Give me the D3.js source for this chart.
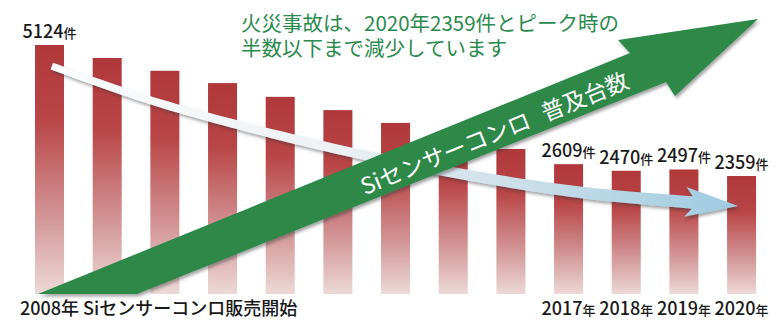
<!DOCTYPE html>
<html>
<head>
<meta charset="utf-8">
<script src="https://cdn.jsdelivr.net/npm/d3@7"></script>
<style>
  body { margin: 0; background: #fff; }
  text { font-family: "Noto Sans CJK JP", "Noto Sans", sans-serif; }
</style>
</head>
<body>
<div id="chart"></div>
<script>
// chart data
var years = [2008, 2009, 2010, 2011, 2012, 2013, 2014, 2015, 2016, 2017, 2018, 2019, 2020];
var fires = [5124, 4850, 4580, 4320, 4030, 3750, 3480, 3200, 2930, 2609, 2470, 2497, 2359];
var labelledYears = [2008, 2017, 2018, 2019, 2020];
var yearTicks = [2017, 2018, 2019, 2020];
var startLabel = ["2008", "年 Siセンサーコンロ販売開始"];
var titleLines = ["火災事故は、2020年2359件とピーク時の", "半数以下まで減少しています"];
var arrowText = ["Siセンサーコンロ", "普及台数"];
// trend arrow path in (year, count) units
var trendPts = [[2008.04, 4680], [2009.74, 3960], [2011.48, 3370], [2013.21, 2865],
                [2014.77, 2485], [2016.38, 2150], [2017.6, 1960], [2019.05, 1810], [2019.94, 1725]];

var svgWidth = 778;
var svgHeight = 322;
var floorY = 294;

var svg = d3.select("#chart")
    .append("svg")
    .attr("width", svgWidth)
    .attr("height", svgHeight);

var defs = svg.append("defs");

var barGrad = defs.append("linearGradient")
    .attr("id", "barGrad")
    .attr("x1", 0).attr("y1", 0).attr("x2", 0).attr("y2", 1);
barGrad.append("stop").attr("offset", "0%").attr("stop-color", "#b0383b");
barGrad.append("stop").attr("offset", "30%").attr("stop-color", "#b94547");
barGrad.append("stop").attr("offset", "70%").attr("stop-color", "#d39797");
barGrad.append("stop").attr("offset", "100%").attr("stop-color", "#ecd9d7");

var trendGrad = defs.append("linearGradient")
    .attr("id", "trendGrad")
    .attr("gradientUnits", "userSpaceOnUse")
    .attr("x1", 50).attr("y1", 0).attr("x2", 740).attr("y2", 0);
trendGrad.append("stop").attr("offset", "0%").attr("stop-color", "#fafbfc");
trendGrad.append("stop").attr("offset", "40%").attr("stop-color", "#eef2f4");
trendGrad.append("stop").attr("offset", "65%").attr("stop-color", "#cfe1ea");
trendGrad.append("stop").attr("offset", "100%").attr("stop-color", "#9dcae0");

var shadow = defs.append("filter").attr("id", "shadow")
    .attr("x", "-10%").attr("y", "-10%").attr("width", "130%").attr("height", "130%");
shadow.append("feDropShadow")
    .attr("dx", 1.5).attr("dy", 2.5).attr("stdDeviation", 1.6)
    .attr("flood-color", "#333").attr("flood-opacity", 0.45);

// scales
var x = d3.scaleBand()
    .domain(years)
    .range([20.6, 770.5])
    .paddingInner(0.497)
    .paddingOuter(0.25);

var y = d3.scaleLinear()
    .domain([0, d3.max(fires)])
    .range([287.8, 45]);

var xc = d3.scaleLinear()
    .domain([years[0], years[years.length - 1]])
    .range([x(years[0]) + x.bandwidth() / 2, x(years[years.length - 1]) + x.bandwidth() / 2]);

var data = years.map(function(yr, i) { return { year: yr, count: fires[i] }; });

// bars
svg.append("g").selectAll("rect")
    .data(data)
    .enter()
    .append("rect")
    .attr("x", d => x(d.year))
    .attr("y", d => y(d.count))
    .attr("width", x.bandwidth())
    .attr("height", d => floorY - y(d.count))
    .attr("fill", "url(#barGrad)");

// trend arrow (white to light blue)
var trendLine = d3.line()
    .x(d => xc(d[0]))
    .y(d => y(d[1]))
    .curve(d3.curveCatmullRom.alpha(0.5));

var guide = svg.append("path")
    .attr("d", trendLine(trendPts))
    .attr("fill", "none")
    .attr("stroke", "none");
var node = guide.node();
var total = node.getTotalLength();
var shaftEnd = total - 46;
var leftSide = [], rightSide = [];
for (var i = 0; i <= 80; i++) {
    var s = shaftEnd * i / 80;
    var p = node.getPointAtLength(s);
    var q = node.getPointAtLength(Math.min(s + 1, total));
    var len = Math.hypot(q.x - p.x, q.y - p.y);
    var nx = -(q.y - p.y) / len, ny = (q.x - p.x) / len;
    var w = 3.6 + 2.6 * (i / 80);
    leftSide.push([p.x - nx * w, p.y - ny * w]);
    rightSide.push([p.x + nx * w, p.y + ny * w]);
}
var tip = node.getPointAtLength(total);
var base = node.getPointAtLength(total - 53);
var dl = Math.hypot(tip.x - base.x, tip.y - base.y);
var ux = (tip.x - base.x) / dl, uy = (tip.y - base.y) / dl;
var barbL = [base.x + uy * 15, base.y - ux * 15];
var barbR = [base.x - uy * 15, base.y + ux * 15];
var trendShape = leftSide.concat([barbL, [tip.x, tip.y], barbR], rightSide.reverse());
guide.remove();

svg.append("path")
    .attr("d", d3.line()(trendShape) + "Z")
    .attr("fill", "url(#trendGrad)")
    .attr("filter", "url(#shadow)");

// green arrow (spread of Si sensor stoves)
var gTail = [38, floorY];
var gTail2 = [137, floorY];
var gHead = [
    [630, 53], [618, 40], [758, 19], [675, 96], [666, 82]
];
var greenShape = [gTail].concat(gHead, [gTail2]);

svg.append("path")
    .attr("d", d3.line()(greenShape) + "Z")
    .attr("fill", "#2d894a")
    .attr("filter", "url(#shadow)");

var angle = Math.atan2(53 - floorY, 630 - 38) * 180 / Math.PI;
var arrowLabel = svg.append("text")
    .attr("transform", `translate(361, 186) rotate(${angle})`)
    .attr("fill", "#fff")
    .attr("font-size", 23)
    .attr("dominant-baseline", "central");
arrowLabel.append("tspan").text(arrowText[0]);
arrowLabel.append("tspan").attr("dx", 14).text(arrowText[1]);

// value labels
var valueLabels = svg.append("g").selectAll("text")
    .data(data.filter(d => labelledYears.indexOf(d.year) >= 0))
    .enter()
    .append("text")
    .attr("x", d => x(d.year) + x.bandwidth() / 2)
    .attr("y", d => y(d.count) - 7)
    .attr("text-anchor", "middle")
    .attr("fill", "#1a1a1a")
    .attr("font-weight", 500);
valueLabels.append("tspan").attr("font-size", 18).text(d => d.count);
valueLabels.append("tspan").attr("font-size", 13).text("件");

// year labels
var yearLabels = svg.append("g").selectAll("text")
    .data(yearTicks)
    .enter()
    .append("text")
    .attr("x", d => x(d) + x.bandwidth() / 2)
    .attr("y", 315)
    .attr("text-anchor", "middle")
    .attr("fill", "#1a1a1a")
    .attr("font-weight", 500);
yearLabels.append("tspan").attr("font-size", 18).text(d => d);
yearLabels.append("tspan").attr("font-size", 13).text("年");

var start = svg.append("text")
    .attr("x", 20)
    .attr("y", 315)
    .attr("fill", "#1a1a1a")
    .attr("font-weight", 500)
    .attr("font-size", 18);
start.append("tspan").text(startLabel[0]);
start.append("tspan").text(startLabel[1]);

// headline
svg.append("g").selectAll("text")
    .data(titleLines)
    .enter()
    .append("text")
    .attr("x", 241)
    .attr("y", (d, i) => 31 + i * 24.5)
    .attr("fill", "#2b8a4e")
    .attr("font-size", 20.5)
    .attr("font-weight", 400)
    .text(d => d);
</script>
</body>
</html>
